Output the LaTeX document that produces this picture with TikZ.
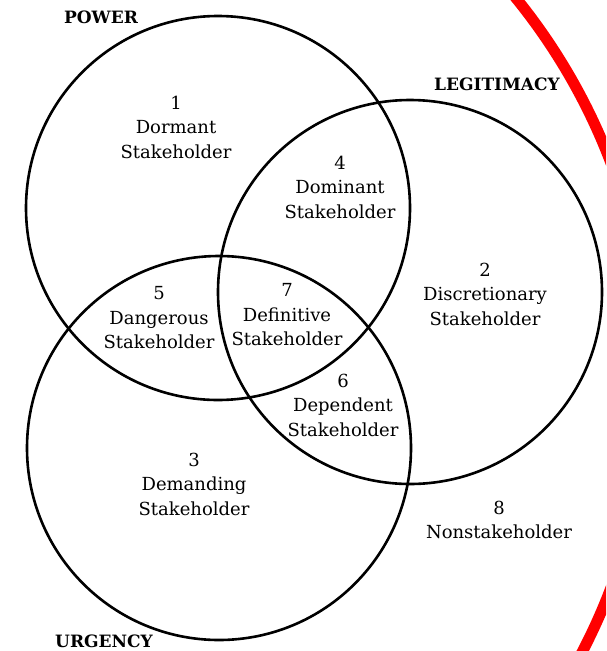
\documentclass[tikz,border=0pt]{standalone}
\usepackage{fontspec}
\setmainfont{DejaVu Serif}
\begin{document}
\begin{tikzpicture}[x=1pt,y=-1pt,
  venn/.style={circle, draw=black, line width=2.6pt, minimum size=384pt, inner sep=0pt},
  lbl/.style={align=center, inner sep=0pt, font=\fontsize{18}{24.5}\selectfont},
  ttl/.style={inner sep=0pt, font=\fontsize{17}{20}\selectfont\bfseries}]
\useasboundingbox (0,0) rectangle (606,651);
\fill[white] (0,0) rectangle (606,651);
\begin{scope}
  \clip (0,0) rectangle (606,651);
  \draw[red, line width=11pt] (50.7,375.4) circle[radius=599pt];
\end{scope}
\node[venn] (power) at (218,208) {};
\node[venn] (legit) at (410,292) {};
\node[venn] (urgency) at (219,448) {};
\node[ttl] (tpower) at (101,17) {POWER};
\node[ttl] (tlegit) at (497,84) {LEGITIMACY};
\node[ttl] (turg) at (104,641) {URGENCY};
\node[lbl] (r1) at (176,127) {1\\Dormant\\Stakeholder};
\node[lbl] (r4) at (340,187) {4\\Dominant\\Stakeholder};
\node[lbl] (r2) at (485,294) {2\\Discretionary\\Stakeholder};
\node[lbl] (r5) at (159,318) {5\\Dangerous\\Stakeholder};
\node[lbl] (r7) at (287,315) {7\\Definitive\\Stakeholder};
\node[lbl] (r6) at (343,405) {6\\Dependent\\Stakeholder};
\node[lbl] (r3) at (194,484) {3\\Demanding\\Stakeholder};
\node[lbl] (r8) at (499,520) {8\\Nonstakeholder};
\end{tikzpicture}
\end{document}
